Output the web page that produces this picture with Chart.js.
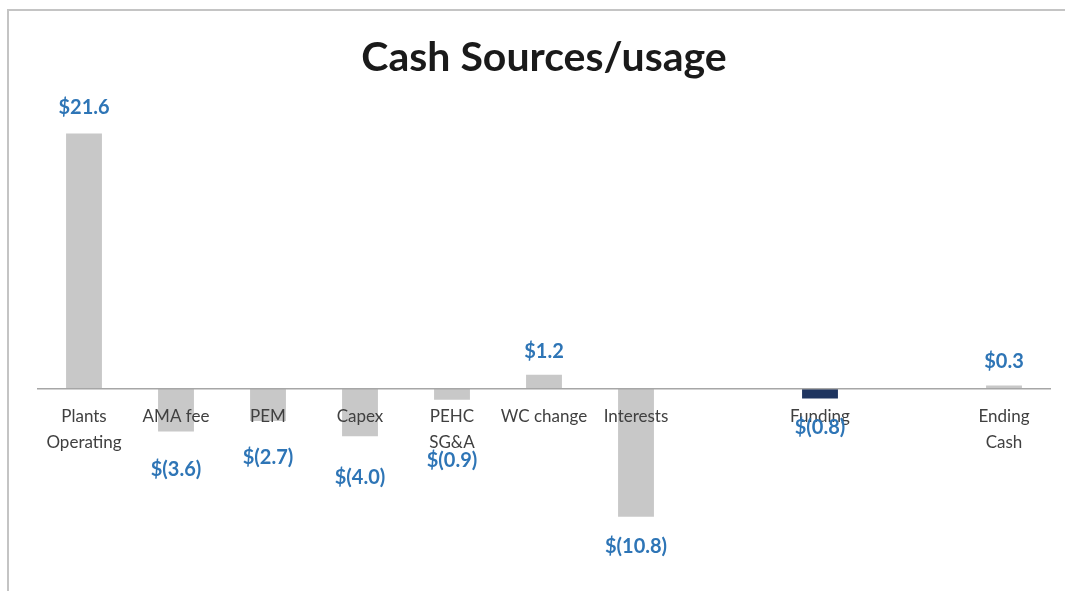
<!DOCTYPE html>
<html>
<head>
<meta charset="utf-8">
<script src="https://cdn.jsdelivr.net/npm/chart.js@4.4.1/dist/chart.umd.min.js"></script>
<style>
  html, body { margin: 0; padding: 0; background: #fff; }
  #wrap { position: relative; width: 1065px; height: 591px; }
  #frame { position: absolute; left: 7px; top: 9px; right: 0; bottom: 0;
           border-top: 2px solid #c4c4c4; border-left: 2px solid #c4c4c4; }
  canvas { position: absolute; left: 0; top: 0; }
</style>
</head>
<body>
<div id="wrap">
  <div id="frame"></div>
  <canvas id="cashChart" width="1065" height="591"></canvas>
</div>
<script>
// categories (blank ones are the empty slots in the original)
var categories = [
    ['Plants', 'Operating'],
    'AMA fee',
    'PEM',
    'Capex',
    ['PEHC', 'SG&A'],
    'WC change',
    'Interests',
    '',
    'Funding',
    '',
    ['Ending', 'Cash']
];
// $ millions
var cashValues = [21.6, -3.6, -2.7, -4.0, -0.9, 1.2, -10.8, null, -0.8, null, 0.3];

var barGrey = '#c8c8c8';
var barNavy = '#1f3560';
var labelBlue = '#2e75b6';

function fmtMoney(v) {
    if (v < 0) return '$(' + Math.abs(v).toFixed(1) + ')';
    return '$' + v.toFixed(1);
}

// draws the blue value labels next to each bar end
var valueLabels = {
    id: 'valueLabels',
    afterDraw: function(chart, args, opts) {
        var ctx = chart.ctx;
        var meta = chart.getDatasetMeta(0);
        var data = chart.data.datasets[0].data;
        ctx.save();
        ctx.font = 'bold 20px Lato';
        ctx.fillStyle = labelBlue;
        ctx.textAlign = 'center';
        ctx.textBaseline = 'middle';
        meta.data.forEach(function(bar, i) {
            var v = data[i];
            if (v === null || v === undefined) return;
            ctx.fillText(fmtMoney(v), bar.x, bar.y + opts.shifts[i]);
        });
        ctx.restore();
    }
};

var ctxCash = document.getElementById('cashChart');
var chartCash = new Chart(ctxCash, {
    type: 'bar',
    data: {
        labels: categories,
        datasets: [{
            data: cashValues,
            backgroundColor: categories.map(function(c) {
                return c === 'Funding' ? barNavy : barGrey;
            }),
            borderWidth: 0,
            barPercentage: 0.39,
            categoryPercentage: 1
        }]
    },
    options: {
        responsive: false,
        animation: false,
        layout: {
            padding: { left: 38, right: 15, top: 0, bottom: 21 }
        },
        scales: {
            x: {
                position: { y: 0 },
                grid: { display: false, drawTicks: false },
                border: { display: true, color: '#a6a6a6', width: 1.5, z: 1 },
                ticks: {
                    z: 1,
                    padding: 15,
                    autoSkip: false,
                    maxRotation: 0,
                    color: '#404040',
                    font: { family: 'Lato', size: 17, lineHeight: 1.5 }
                }
            },
            y: {
                display: false,
                min: -15.3,
                max: 24.5
            }
        },
        plugins: {
            legend: { display: false },
            tooltip: { enabled: false },
            title: {
                display: true,
                text: 'Cash Sources/usage',
                color: '#1a1a1a',
                font: { family: 'Lato', size: 41, weight: 'bold' },
                padding: { top: 33, bottom: 17 }
            },
            valueLabels: {
                shifts: [-26, 38, 37, 41, 61, -23, 30, 0, 29, 0, -24]
            }
        }
    },
    plugins: [valueLabels]
});
</script>
</body>
</html>
